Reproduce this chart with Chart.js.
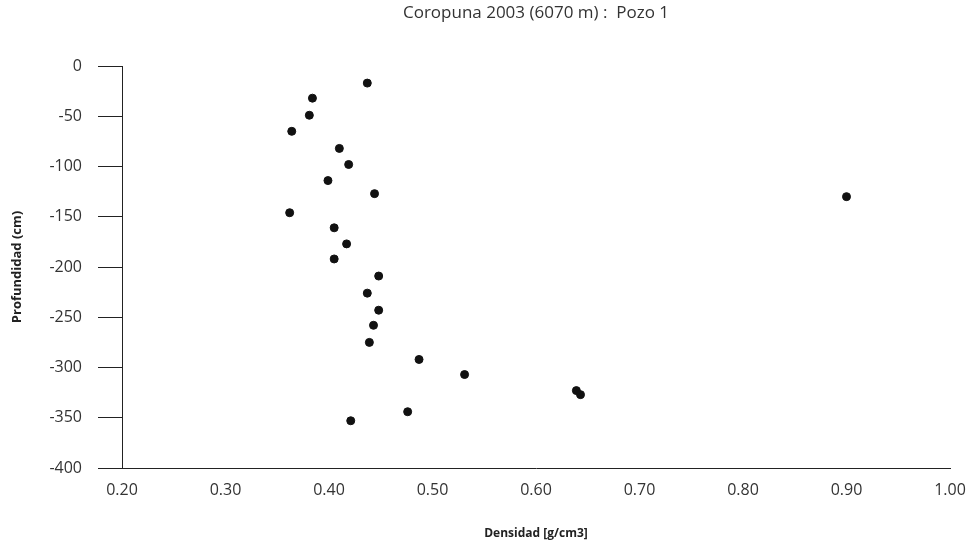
<!DOCTYPE html>
<html>
<head>
<meta charset="utf-8">
<title>Coropuna 2003 - Pozo 1</title>
<script src="https://cdn.jsdelivr.net/npm/chart.js@4.4.1/dist/chart.umd.min.js"></script>
<style>
  html, body { margin: 0; padding: 0; background: #fff; }
  #wrap { width: 975px; height: 555px; }
</style>
</head>
<body>
<div id="wrap"><canvas id="densityChart" width="975" height="555"></canvas></div>
<script>
// density (g/cm3) and depth (cm) for each sample of the pit
const densidad = [
  0.437, 0.384, 0.381, 0.364, 0.410, 0.419, 0.399, 0.444,
  0.362, 0.405, 0.417, 0.405, 0.448, 0.437, 0.448, 0.443,
  0.439, 0.487, 0.531, 0.639, 0.643, 0.476, 0.421, 0.900
];
const profundidad = [
  -17, -32, -49, -65, -82, -98, -114, -127,
  -146, -161, -177, -192, -209, -226, -243, -258,
  -275, -292, -307, -323, -327, -344, -353, -130
];

const xMin = 0.2, xMax = 1.0, xStep = 0.1;
const yMin = -400, yMax = 0, yStep = 50;

const axisColor = "#222";
const textColor = "#333";

let densityChart = null;

document.addEventListener("DOMContentLoaded", () => {
  initDensityChart();
});

function initDensityChart() {
  const el = document.getElementById("densityChart");
  if (!el) return;
  if (densityChart) densityChart.destroy();

  Chart.defaults.font.family = "'Open Sans', 'DejaVu Sans', sans-serif";
  Chart.defaults.color = textColor;

  const points = densidad.map((d, i) => ({ x: d, y: profundidad[i] }));

  densityChart = new Chart(el, {
    type: "scatter",
    data: {
      datasets: [
        {
          label: "Pozo 1",
          data: points,
          backgroundColor: "#111",
          borderColor: "#111",
          pointRadius: 4,
          pointHoverRadius: 4,
        },
      ],
    },
    options: {
      responsive: false,
      devicePixelRatio: 1,
      animation: false,
      layout: { padding: { left: 0, right: 25, top: 0, bottom: 0 } },
      plugins: {
        legend: { display: false },
        tooltip: { enabled: false },
        title: {
          display: true,
          fullSize: false,
          text: "Coropuna 2003 (6070 m) :  Pozo 1",
          color: "#333",
          font: { size: 17, weight: "normal" },
          padding: { top: 3, bottom: 42.6 },
        },
      },
      scales: {
        x: {
          type: "linear",
          min: xMin,
          max: xMax,
          afterFit: (scale) => { scale.height = 87; },
          ticks: {
            stepSize: xStep,
            padding: 0,
            color: textColor,
            font: { size: 16 },
            callback: (v) => Number(v).toFixed(2),
          },
          // invisible tick marks only push the labels down
          grid: {
            display: true,
            drawOnChartArea: false,
            drawTicks: true,
            tickLength: 13,
            color: "rgba(0,0,0,0)",
          },
          border: { display: true, color: axisColor, width: 1 },
          title: {
            display: true,
            text: "Densidad [g/cm3]",
            color: "#222",
            font: { size: 12, weight: "bold" },
            padding: { top: 0, bottom: 14 },
          },
        },
        y: {
          type: "linear",
          min: yMin,
          max: yMax,
          afterFit: (scale) => { scale.width = 122; },
          ticks: {
            stepSize: yStep,
            padding: 16,
            color: textColor,
            font: { size: 16 },
          },
          grid: {
            display: true,
            drawOnChartArea: false,
            drawTicks: true,
            tickLength: 24,
            color: axisColor,
          },
          border: { display: true, color: axisColor, width: 1 },
          title: {
            display: true,
            text: "Profundidad (cm)",
            color: "#222",
            font: { size: 13, weight: "bold" },
            padding: { top: 9, bottom: 0 },
          },
        },
      },
    },
  });
}
</script>
</body>
</html>
